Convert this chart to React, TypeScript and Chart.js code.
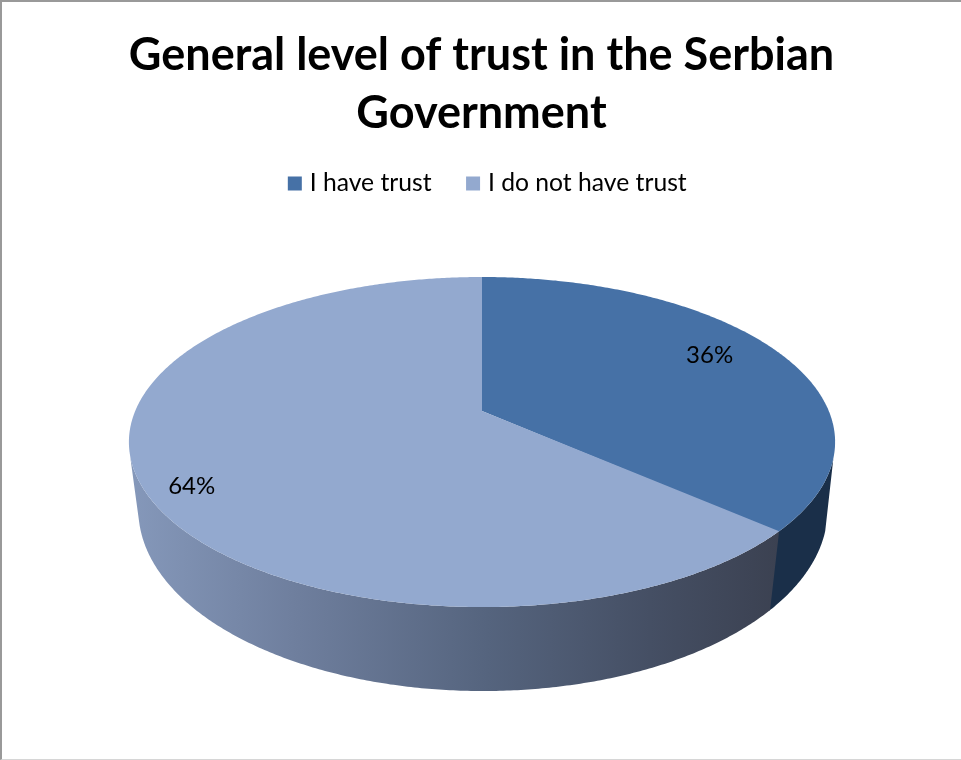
import React, { useEffect, useRef } from "react";
import { Chart, registerables } from "chart.js";

Chart.register(...registerables);

const titleLines = ["General level of trust in the Serbian", "Government"];
const categories = ["I have trust", "I do not have trust"];
const shares = [36, 64];
const topColors = ["#4671a6", "#93a9cf"];
const labelRadius = [0.765, 0.855];
const labelDrop = [-8, 17];

// Oblique view of the disc: each rim is a projected circle.
const topRim = { cx: 482, cy: 411, a: 346.8, b: 159.2, k: -0.188 };
const bottomRim = { cx: 483, cy: 479, a: 339.6, b: 176, k: -0.17 };

type Rim = typeof topRim;

// Slight foreshortening of the angle around the rim, fixed at twelve o'clock.
const foreshorten = (angle: number) => angle + 0.019 * (1 + Math.sin(angle));

const project = (rim: Rim, angle: number, r = 1) => {
  const t = foreshorten(angle);
  const c = r * Math.cos(t);
  const s = r * Math.sin(t);
  const d = 1 + rim.k * s;
  return { x: rim.cx + (rim.a * c) / d, y: rim.cy + (rim.b * s) / d };
};

// The side wall is only visible between these rim angles.
const wallFrom = (15 * Math.PI) / 180;
const wallTo = (165 * Math.PI) / 180;
// The first slice runs slightly under the second so no seam shows at the joint.
const seamOverlap = [0.006, 0];

const wallFill = (ctx: CanvasRenderingContext2D, index: number) => {
  if (index === 0) return "#1a2f49";
  const g = ctx.createLinearGradient(130, 0, 780, 0);
  g.addColorStop(0, "#8598ba");
  g.addColorStop(0.25, "#6f7f9e");
  g.addColorStop(0.55, "#55647e");
  g.addColorStop(0.8, "#454f64");
  g.addColorStop(1, "#3b4151");
  return g;
};

const solidDisc = {
  id: "solidDisc",
  // Nudges the legend row to the right of the plot's centre line.
  afterLayout(chart: Chart) {
    const legend = chart.legend as any;
    legend.left += 8;
    legend.right += 8;
  },
  // The arcs' angles come from the pie controller; they are painted here in projection.
  beforeDatasetDraw(chart: Chart) {
    const ctx = chart.ctx;
    const arcs = chart.getDatasetMeta(0).data as any[];
    const step = Math.PI / 360;

    ctx.save();
    arcs.forEach((arc, i) => {
      const from = Math.max(arc.startAngle, wallFrom);
      const to = Math.min(arc.endAngle + seamOverlap[i], wallTo);
      if (to <= from) return;
      ctx.fillStyle = wallFill(ctx, i);
      ctx.beginPath();
      for (let t = from; t < to; t += step) {
        const p = project(topRim, t);
        ctx.lineTo(p.x, p.y);
      }
      const topEnd = project(topRim, to);
      ctx.lineTo(topEnd.x, topEnd.y);
      const bottomEnd = project(bottomRim, to);
      ctx.lineTo(bottomEnd.x, bottomEnd.y);
      for (let t = to; t > from; t -= step) {
        const p = project(bottomRim, t);
        ctx.lineTo(p.x, p.y);
      }
      const bottomStart = project(bottomRim, from);
      ctx.lineTo(bottomStart.x, bottomStart.y);
      ctx.closePath();
      ctx.fill();
    });

    arcs.forEach((arc, i) => {
      ctx.fillStyle = topColors[i];
      ctx.beginPath();
      ctx.moveTo(topRim.cx, topRim.cy);
      const to = arc.endAngle + seamOverlap[i];
      for (let t = arc.startAngle; t < to; t += step) {
        const p = project(topRim, t);
        ctx.lineTo(p.x, p.y);
      }
      const end = project(topRim, to);
      ctx.lineTo(end.x, end.y);
      ctx.closePath();
      ctx.fill();
    });

    ctx.fillStyle = "#000";
    ctx.font = "24px Lato";
    ctx.textAlign = "center";
    ctx.textBaseline = "middle";
    arcs.forEach((arc, i) => {
      const p = project(topRim, (arc.startAngle + arc.endAngle) / 2, labelRadius[i]);
      ctx.fillText(`${shares[i]}%`, p.x, p.y + labelDrop[i]);
    });
    ctx.restore();
    return false;
  },
};

export default function App() {
  const ref = useRef<HTMLCanvasElement>(null);

  useEffect(() => {
    const chart = new Chart(ref.current!, {
      type: "pie",
      data: {
        labels: categories,
        datasets: [{ data: shares, backgroundColor: topColors, borderWidth: 0 }],
      },
      plugins: [solidDisc],
      options: {
        animation: false,
        responsive: false,
        layout: { padding: { left: 2 } },
        plugins: {
          tooltip: { enabled: false },
          title: {
            display: true,
            text: titleLines,
            color: "#000",
            font: { family: "Lato", size: 45, weight: "bold", lineHeight: 1.29 },
            padding: { top: 26, bottom: -10 },
          },
          legend: {
            position: "top",
            labels: {
              color: "#000",
              font: { family: "Lato", size: 24.7 },
              boxWidth: 5,
              boxHeight: 5,
              padding: 39,
              generateLabels: () =>
                categories.map((text, i) => ({
                  text,
                  fillStyle: topColors[i],
                  strokeStyle: topColors[i],
                  lineWidth: 9,
                  index: i,
                })),
            },
          },
        },
      },
    });
    return () => chart.destroy();
  }, []);

  return (
    <div
      style={{
        position: "absolute",
        left: 0,
        top: 0,
        width: 961,
        height: 760,
        boxSizing: "border-box",
        background: "#fff",
        overflow: "hidden",
      }}
    >
      <canvas ref={ref} width={961} height={760} style={{ display: "block" }} />
      <div
        style={{
          position: "absolute",
          inset: 0,
          boxSizing: "border-box",
          borderTop: "2px solid #999",
          borderLeft: "2px solid #999",
          borderBottom: "1px solid #d6d6d6",
        }}
      />
    </div>
  );
}
